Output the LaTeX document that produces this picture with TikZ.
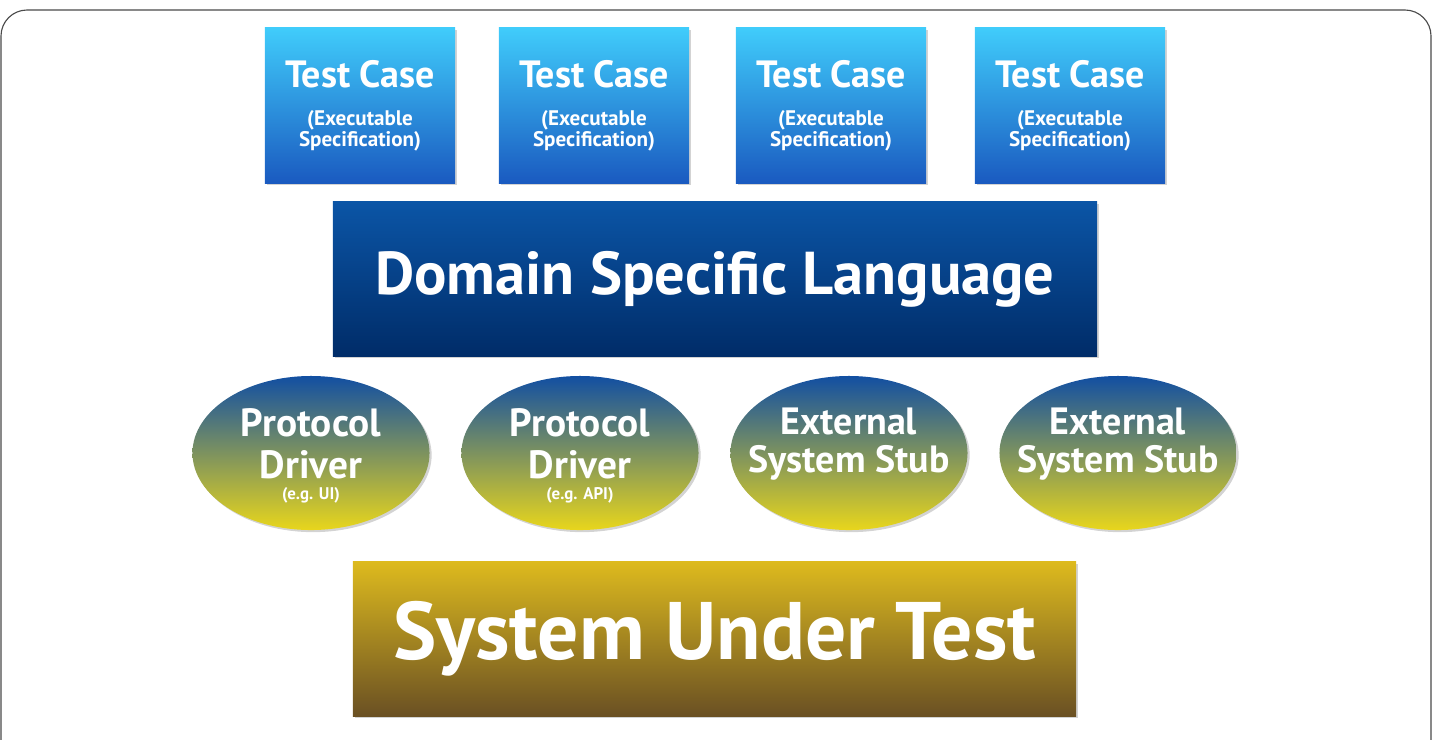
\documentclass[tikz,border=0pt]{standalone}
\usepackage{fontspec}
\setmainfont{PT Sans}
\usepackage{xcolor}
\definecolor{CaseTop}{HTML}{40CCFB}
\definecolor{CaseBottom}{HTML}{1A5AC0}
\definecolor{LangTop}{HTML}{0B55A6}
\definecolor{LangBottom}{HTML}{002C68}
\definecolor{OvalTop}{HTML}{124FA2}
\definecolor{OvalMid}{HTML}{4E8280}
\definecolor{OvalBottom}{HTML}{E8D61C}
\definecolor{SutTop}{HTML}{DDBA1E}
\definecolor{SutBottom}{HTML}{6A5023}
\definecolor{FrameGray}{HTML}{4A4A4A}
\usepackage{tikz}
\usetikzlibrary{shadows, shapes.geometric}

\begin{document}
\begin{tikzpicture}[x=0.025cm, y=-0.025cm,
  box/.style={rectangle, inner sep=0pt, text=white, font=\bfseries, align=center,
    drop shadow={opacity=0.35, shadow xshift=1.5pt, shadow yshift=-1.5pt}},
  casebox/.style={box, top color=CaseTop, bottom color=CaseBottom,
    minimum width=4.75cm, minimum height=3.875cm, font=\bfseries\fontsize{15}{17}\selectfont},
  langbox/.style={box, top color=LangTop, bottom color=LangBottom,
    minimum width=19.1cm, minimum height=3.85cm, font=\bfseries\fontsize{43}{45}\selectfont},
  sutbox/.style={box, top color=SutTop, bottom color=SutBottom,
    minimum width=18.075cm, minimum height=3.85cm, font=\bfseries\fontsize{58}{60}\selectfont},
  oval/.style={ellipse, inner sep=0pt, top color=OvalTop, middle color=OvalMid,
    bottom color=OvalBottom, minimum width=5.925cm, minimum height=3.85cm,
    drop shadow={opacity=0.35, shadow xshift=1.5pt, shadow yshift=-1.5pt}},
  ovaltext/.style={text=white, font=\bfseries\fontsize{12}{14}\selectfont, align=center, inner sep=0pt},
  stubtext/.style={ovaltext, font=\bfseries\fontsize{27}{27}\selectfont}
]
  \useasboundingbox (0,0) rectangle (1444,739);
  \draw[FrameGray, line width=0.8pt, rounded corners=0.65cm] (1,10) rectangle (1431,775);

  % executable specifications
  \foreach \x [count=\i] in {360,594,831,1070}
    \node[casebox] (case\i) at (\x,105.5)
      {{\fontsize{27}{29}\selectfont Test Case}\\[10pt]
       (Executable\\[-2pt]Specification)};

  \node[langbox] (dsl) at (715,279) {Domain Specific Language};

  % drivers and stubs
  \node[oval] (oval1) at (311,453) {};
  \node[oval] (oval2) at (580,453) {};
  \node[oval] (oval3) at (849,453) {};
  \node[oval] (oval4) at (1118,453) {};
  \node[ovaltext] (drv1) at ([yshift=-0.075cm]oval1.center)
    {{\fontsize{28}{30}\selectfont Protocol}\\[8pt]{\fontsize{28}{30}\selectfont Driver}\\[1pt](e.g. UI)};
  \node[ovaltext] (drv2) at ([yshift=-0.075cm]oval2.center)
    {{\fontsize{28}{30}\selectfont Protocol}\\[8pt]{\fontsize{28}{30}\selectfont Driver}\\[1pt](e.g. API)};
  \node[stubtext] (stub3) at ([yshift=0.225cm]oval3.center) {External\\System Stub};
  \node[stubtext] (stub4) at ([yshift=0.225cm]oval4.center) {External\\System Stub};

  \node[sutbox] (sut) at (714.5,639) {System Under Test};
\end{tikzpicture}
\end{document}
